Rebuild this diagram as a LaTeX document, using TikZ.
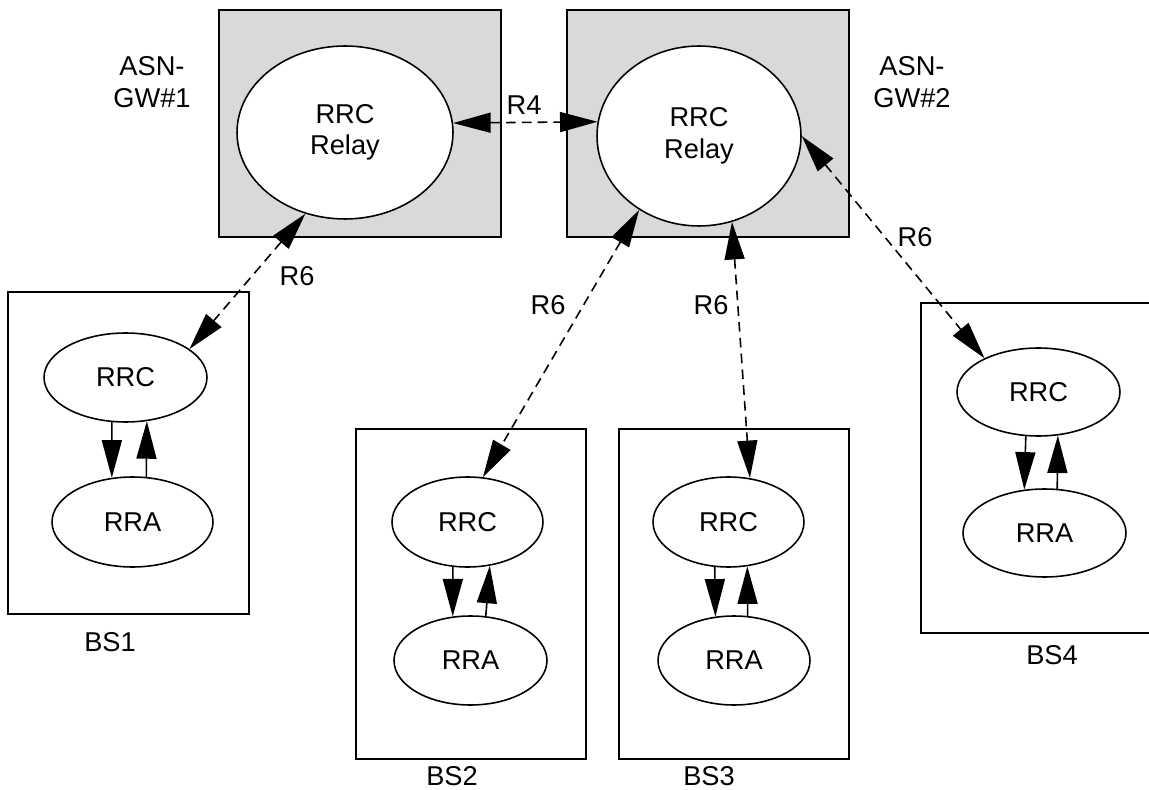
\documentclass[tikz,border=0pt]{standalone}
\usepackage{fontspec}
\setmainfont{Liberation Sans}
\usetikzlibrary{arrows.meta,positioning,shapes.geometric}
\definecolor{gwgray}{HTML}{D9D9D9}

\begin{document}
\begin{tikzpicture}[x=0.02cm, y=-0.02cm,
          gwbox/.style={draw=black, fill=gwgray, line width=1.1pt},
          bsbox/.style={draw=black, line width=1.1pt},
          relay/.style={ellipse, draw=black, fill=white, line width=0.9pt, inner sep=0pt, align=center, font=\fontsize{15.5}{18}\selectfont},
          ent/.style={ellipse, draw=black, fill=white, line width=0.9pt, inner sep=0pt, font=\fontsize{15.5}{18}\selectfont},
          lbl/.style={align=center, inner sep=1pt, font=\fontsize{15.5}{18}\selectfont},
          arr/.style={-{Triangle[length=7.5mm,width=4mm]}, line width=0.9pt},
          darr/.style={{Triangle[length=7.5mm,width=4mm]}-{Triangle[length=7.5mm,width=4mm]}, line width=0.9pt, dash pattern=on 5.5pt off 3.5pt}]
        \useasboundingbox (0,0) rectangle (1149,790);
        % gateways
        \draw[gwbox] (219,10) rectangle (501,237);
        \draw[gwbox] (567,10) rectangle (849,237);
        \node[relay, minimum width=4.32cm, minimum height=3.46cm] (relay1) at (345,132.5) {RRC\\Relay};
        \node[relay, minimum width=4.08cm, minimum height=3.6cm] (relay2) at (699,136) {RRC\\Relay};
        \node[lbl] (gw1lbl) at (152,82) {ASN-\\GW\#1};
        \node[lbl] (gw2lbl) at (912,82) {ASN-\\GW\#2};
        % base stations
        \draw[bsbox] (8,292) rectangle (249,614);
        \draw[bsbox] (356,429) rectangle (586,759);
        \draw[bsbox] (619,429) rectangle (849,759);
        \draw[bsbox] (921,303) rectangle (1175,633);
        \node[ent, minimum width=3.26cm, minimum height=1.78cm] (bs1rrc) at (125.5,377.5) {RRC};
        \node[ent, minimum width=3.22cm, minimum height=1.8cm] (bs1rra) at (132.5,522) {RRA};
        \node[ent, minimum width=3.02cm, minimum height=1.8cm] (bs2rrc) at (467.5,522) {RRC};
        \node[ent, minimum width=3.06cm, minimum height=1.78cm] (bs2rra) at (470.5,660.5) {RRA};
        \node[ent, minimum width=3.02cm, minimum height=1.8cm] (bs3rrc) at (728.5,522) {RRC};
        \node[ent, minimum width=3.04cm, minimum height=1.78cm] (bs3rra) at (734,660.5) {RRA};
        \node[ent, minimum width=3.26cm, minimum height=1.76cm] (bs4rrc) at (1038.5,392) {RRC};
        \node[ent, minimum width=3.26cm, minimum height=1.76cm] (bs4rra) at (1044.5,533) {RRA};
        \node[lbl] (bs1lbl) at (110,642) {BS1};
        \node[lbl] (bs2lbl) at (452,776) {BS2};
        \node[lbl] (bs3lbl) at (709,776) {BS3};
        \node[lbl] (bs4lbl) at (1052,655) {BS4};
        % reference points
        \draw[darr] (relay1.5) -- (relay2.172);
        \draw[darr] (relay1.-116) -- (bs1rrc.24);
        \draw[darr] (relay2.-129.5) -- (bs2rrc.71);
        \draw[darr] (relay2.-69) -- (bs3rrc.64);
        \draw[darr] (relay2.0) -- (bs4rrc.148);
        \node[lbl] (r4) at (524,105) {R4};
        \node[lbl] (r6a) at (297,276) {R6};
        \node[lbl] (r6b) at (548,305) {R6};
        \node[lbl] (r6c) at (711,305) {R6};
        \node[lbl] (r6d) at (915,237) {R6};
        % inside the base stations
        \draw[arr] (bs1rrc.-107) -- (bs1rra.115);
        \draw[arr] (bs1rra.73) -- (bs1rrc.-64.5);
        \draw[arr] (bs2rrc.-108) -- (bs2rra.112);
        \draw[arr] (bs2rra.71) -- (bs2rrc.-63);
        \draw[arr] (bs3rrc.-107) -- (bs3rra.113);
        \draw[arr] (bs3rra.73) -- (bs3rrc.-67);
        \draw[arr] (bs4rrc.-106) -- (bs4rra.115);
        \draw[arr] (bs4rra.74) -- (bs4rrc.-66);
      \end{tikzpicture}
\end{document}
